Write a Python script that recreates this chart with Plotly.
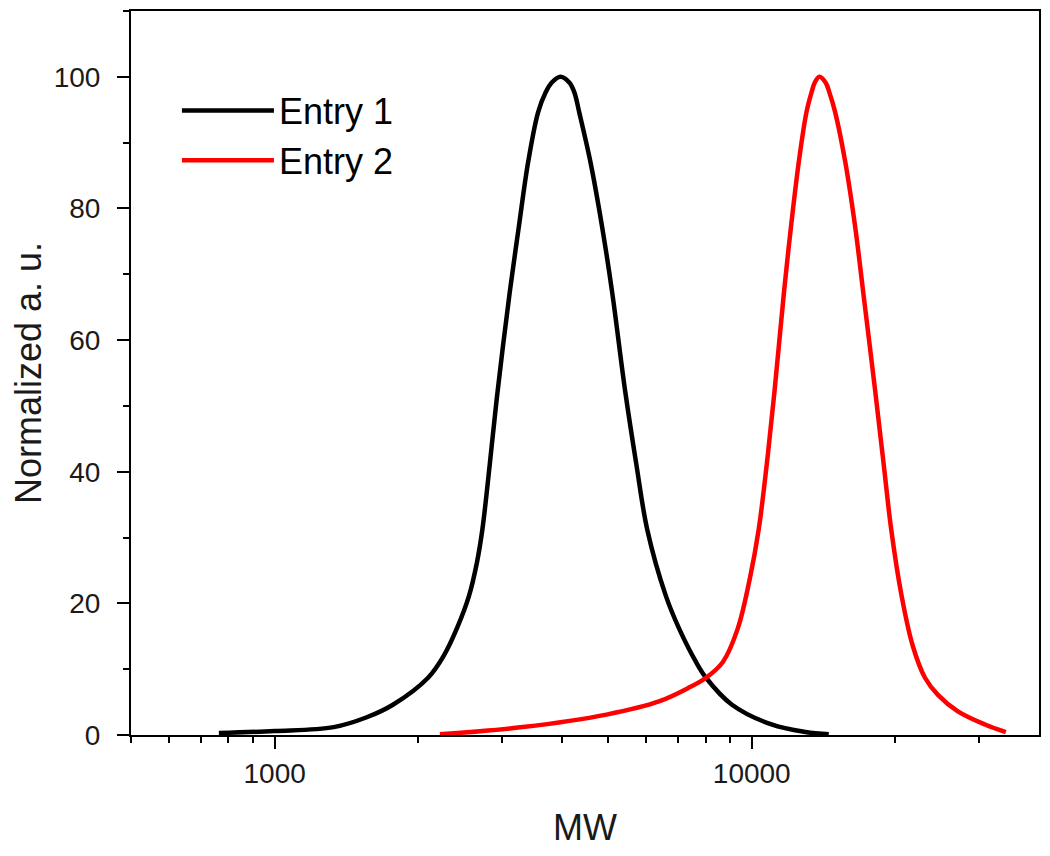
import plotly.graph_objects as go

# Entry 1 (black)
mw_entry1 = [764, 1000, 1330, 1560, 1770, 2097, 2264, 2410, 2554, 2653, 2725, 2824, 2921,
             3109, 3248, 3400, 3566, 3697, 3806, 3974, 4150, 4250, 4350, 4590, 4860, 5100,
             5430, 5730, 6040, 6610, 7040, 7640, 8020, 9090, 11000, 12970, 14500]
y_entry1 = [0.3, 0.6, 1.2, 2.7, 4.6, 8.7, 12.1, 16.2, 21.1, 26.1, 31.2, 41.1, 51.1,
            67.2, 77.1, 87.1, 94.6, 97.6, 99.1, 100, 99.1, 97.6, 94.6, 87.1, 77.1, 67.2,
            52.2, 41.1, 31.2, 21.1, 16.2, 11.1, 8.7, 4.6, 1.6, 0.45, 0.1]

# Entry 2 (red)
mw_entry2 = [2220, 3310, 4960, 6390, 7390, 8020, 8700, 9350, 9904, 10340, 10750, 11160,
             11680, 12080, 12550, 13020, 13340, 13550, 13860, 14290, 14550, 14960, 15700,
             16480, 17130, 18150, 18905, 19605, 20615, 21740, 23070, 24560, 27040, 30810,
             34080]
y_entry2 = [0.1, 1.2, 3.1, 5.1, 7.2, 8.7, 11.1, 16.2, 23.7, 31.2, 41.1, 52.2,
            67.2, 77.1, 87.1, 94.6, 97.6, 99.1, 100, 99.1, 97.6, 94.6, 87.1,
            77.1, 67.2, 52.2, 41.1, 31.2, 21.1, 13.6, 8.7, 6.1, 3.6, 1.6,
            0.45]

x_major_ticks = [1000, 10000]
x_major_labels = ["1000", "10000"]
x_minor_ticks = [500, 600, 700, 800, 900, 2000, 3000, 4000, 5000, 6000, 7000, 8000,
                 9000, 20000, 30000]

FONT = "Arial, Liberation Sans, sans-serif"

fig = go.Figure()
fig.add_trace(go.Scatter(x=mw_entry1, y=y_entry1, mode="lines", name="Entry 1",
                         line=dict(color="black", width=4.5, shape="spline", smoothing=1.0)))
fig.add_trace(go.Scatter(x=mw_entry2, y=y_entry2, mode="lines", name="Entry 2",
                         line=dict(color="#ff0000", width=4.5, shape="spline", smoothing=1.0)))

axis_common = dict(showline=True, linecolor="black", linewidth=2, mirror=True,
                   showgrid=False, zeroline=False, ticks="outside", ticklen=12,
                   tickwidth=2, tickcolor="black",
                   tickfont=dict(family=FONT, size=28, color="#1a1a1a"))

fig.update_xaxes(type="log", range=[2.69897, 4.60206],
                 tickvals=x_major_ticks, ticktext=x_major_labels,
                 minor=dict(tickvals=x_minor_ticks, ticks="outside", ticklen=6,
                            tickwidth=2, tickcolor="black"),
                 title=dict(text="MW", font=dict(family=FONT, size=36, color="#1a1a1a"),
                            standoff=33),
                 **axis_common)
fig.update_yaxes(range=[0, 110], tick0=0, dtick=20,
                 minor=dict(dtick=10, ticks="outside", ticklen=6, tickwidth=2,
                            tickcolor="black"),
                 ticklabelstandoff=11,
                 title=dict(text="Normalized a. u.",
                            font=dict(family=FONT, size=36, color="#1a1a1a"),
                            standoff=5),
                 **axis_common)

fig.update_layout(
    width=1034, height=840,
    margin=dict(l=123, r=2, t=1, b=107),
    paper_bgcolor="white", plot_bgcolor="white",
    showlegend=True,
    legend=dict(x=0.0506, y=0.904, xanchor="left", yanchor="top",
                bgcolor="rgba(0,0,0,0)", borderwidth=0,
                font=dict(family=FONT, size=36, color="black"),
                itemwidth=92, tracegroupgap=0),
)

fig.write_html("out.html")
